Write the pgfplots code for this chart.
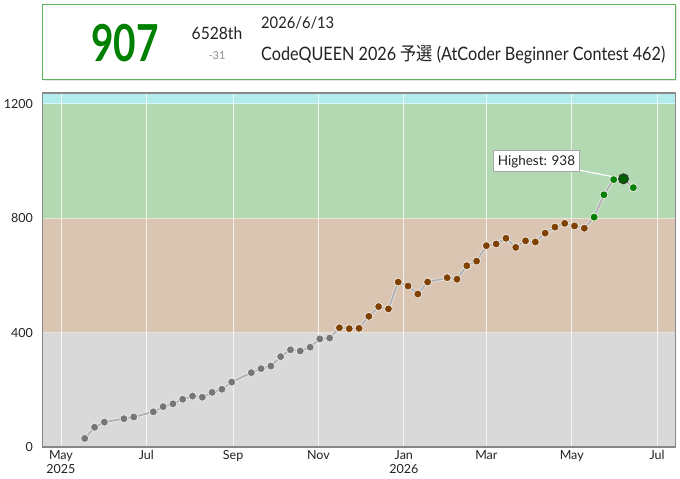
\documentclass[border=0pt]{standalone}
\usepackage{pgfplots}
\usepackage{pgfplotstable}
\pgfplotsset{compat=1.18}
\usepackage{fontspec}
\setmainfont{Lato}
\newfontfamily\jp{Noto Sans CJK JP}
\definecolor{bgGray}{RGB}{217,217,217}
\definecolor{bgBrown}{RGB}{217,197,178}
\definecolor{bgGreen}{RGB}{178,217,178}
\definecolor{bgCyan}{RGB}{178,236,236}
\definecolor{acGray}{RGB}{118,118,118}
\definecolor{acBrown}{RGB}{128,64,0}
\definecolor{acGreen}{RGB}{0,128,0}
\definecolor{acDark}{RGB}{0,96,0}
\definecolor{hdrGreen}{RGB}{92,178,92}
\definecolor{axisGray}{RGB}{136,136,136}
\definecolor{lineGray}{RGB}{178,178,178}
\definecolor{ringCol}{RGB}{235,230,225}
\definecolor{txt}{RGB}{34,34,34}

% day = days since 2025-05-01, rating, class (g gray, b brown, n green, h highest)
\pgfplotstableread{
d r c
17 30 g
24 69 g
31 87 g
45 99 g
52 105 g
66 123 g
73 141 g
80 151 g
87 167 g
94 178 g
101 174 g
108 191 g
115 202 g
122 227 g
136 260 g
143 274 g
150 283 g
157 316 g
164 340 g
171 336 g
178 349 g
185 378 g
192 381 g
199 417 b
206 414 b
213 415 b
220 457 b
227 491 b
234 483 b
241 577 b
248 563 b
255 535 b
262 577 b
276 592 b
283 587 b
290 634 b
297 650 b
304 704 b
311 710 b
318 730 b
325 698 b
332 721 b
339 717 b
346 748 b
353 769 b
360 782 b
367 773 b
374 765 b
381 804 n
388 882 n
395 935 n
402 938 h
409 907 n
}\ratings

\begin{document}
\begin{tikzpicture}
\useasboundingbox (0pt,0pt) rectangle (680pt,479pt);
% header box
\fill[black!10] (43.5pt,397.5pt) rectangle (676.5pt,473pt);
\draw[draw=hdrGreen, line width=1pt, fill=white] (42.5pt,399pt) rectangle (675.5pt,474pt);
\node[text=acGreen, inner sep=0pt, font=\fontsize{51}{51}\selectfont\bfseries] at (125pt,436pt) {\scalebox{0.76}[1]{907}};
\node[anchor=base, inner sep=0pt, text=txt, font=\fontsize{17}{17}\selectfont] at (217pt,439pt) {\scalebox{0.92}[1]{6528th}};
\node[anchor=base, inner sep=0pt, text=black!45, font=\fontsize{11}{11}\selectfont] at (217pt,419pt) {-31};
\node[anchor=base west, inner sep=0pt, text=txt, font=\fontsize{16}{16}\selectfont] at (261pt,450pt) {\scalebox{0.92}[1]{2026/6/13}};
\node[anchor=base west, inner sep=0pt, text=txt, font=\fontsize{18.5}{18.5}\selectfont] at (261pt,418pt) {\scalebox{0.875}[1]{CodeQUEEN 2026 {\jp 予選} (AtCoder Beginner Contest 462)}};

\begin{axis}[
  at={(42.5pt,32pt)}, anchor=south west,
  scale only axis, width=633.2pt, height=354pt,
  xmin=-13.2, xmax=439.3, ymin=0, ymax=1238,
  axis on top,
  axis line style={draw=axisGray, line width=1.3pt},
  xtick={0,61,123,184,245,304,365,426},
  xticklabels={{May\\2025},Jul,Sep,Nov,{Jan\\2026},Mar,May,Jul},
  ytick={0,400,800,1200},
  yticklabels={0,400,800,1200},
  major tick length=0pt,
  tick label style={font=\fontsize{12.5}{14.5}\selectfont, text=txt},
  xticklabel style={align=center},
  yticklabel style={xshift=-6pt},
]
\fill[bgGray] (axis cs:-13.2,0) rectangle (axis cs:439.3,400);
\fill[bgBrown] (axis cs:-13.2,400) rectangle (axis cs:439.3,800);
\fill[bgGreen] (axis cs:-13.2,800) rectangle (axis cs:439.3,1200);
\fill[bgCyan] (axis cs:-13.2,1200) rectangle (axis cs:439.3,1238);
\draw[white, opacity=0.75, line width=0.9pt] (axis cs:0,0) -- (axis cs:0,1238);
\draw[white, opacity=0.75, line width=0.9pt] (axis cs:61,0) -- (axis cs:61,1238);
\draw[white, opacity=0.75, line width=0.9pt] (axis cs:123,0) -- (axis cs:123,1238);
\draw[white, opacity=0.75, line width=0.9pt] (axis cs:184,0) -- (axis cs:184,1238);
\draw[white, opacity=0.75, line width=0.9pt] (axis cs:245,0) -- (axis cs:245,1238);
\draw[white, opacity=0.75, line width=0.9pt] (axis cs:304,0) -- (axis cs:304,1238);
\draw[white, opacity=0.75, line width=0.9pt] (axis cs:365,0) -- (axis cs:365,1238);
\draw[white, opacity=0.75, line width=0.9pt] (axis cs:426,0) -- (axis cs:426,1238);
\draw[white, opacity=0.5, line width=0.8pt] (axis cs:-13.2,400) -- (axis cs:439.3,400);
\draw[white, opacity=0.5, line width=0.8pt] (axis cs:-13.2,800) -- (axis cs:439.3,800);
\draw[white, opacity=0.5, line width=0.8pt] (axis cs:-13.2,1200) -- (axis cs:439.3,1200);
% rating line
\addplot[no marks, white, opacity=0.6, line width=3.4pt] table[x=d, y=r] \ratings;
\addplot[no marks, lineGray, line width=2pt] table[x=d, y=r] \ratings;
% highest callout line
\draw[white, line width=1.2pt] (axis cs:370.5,968) -- (axis cs:402,938);
% points
\addplot[scatter, only marks, scatter src=explicit symbolic,
  scatter/classes={
    g={mark=*, fill=acGray, draw=ringCol, mark size=4pt, line width=0.8pt},
    b={mark=*, fill=acBrown, draw=ringCol, mark size=4pt, line width=0.8pt},
    n={mark=*, fill=acGreen, draw=ringCol, mark size=4pt, line width=0.8pt},
    h={mark=*, fill=acDark, draw=black!80, mark size=5pt, line width=0.9pt}}]
  table[x=d, y=r, meta=c] \ratings;
\node[draw=black!35, fill=white, line width=0.8pt, minimum width=86pt, minimum height=21pt, inner sep=0pt, font=\fontsize{13.5}{13.5}\selectfont, text=txt] at (axis cs:339.8,999) {Highest: 938};
\end{axis}
\end{tikzpicture}
\end{document}
